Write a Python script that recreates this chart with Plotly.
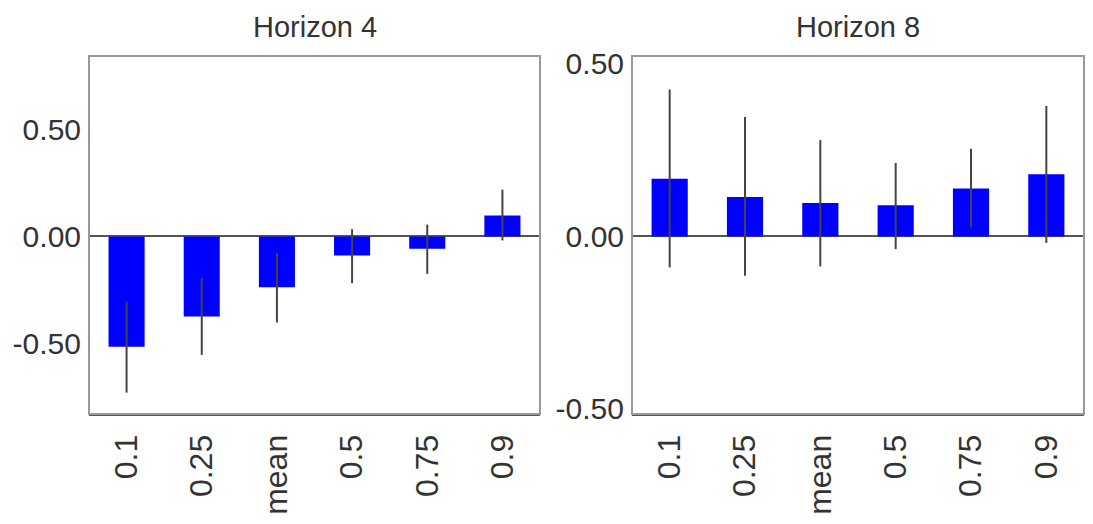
import plotly.graph_objects as go

categories = ["0.1", "0.25", "mean", "0.5", "0.75", "0.9"]

# Horizon 4
h4_values = [-0.516, -0.375, -0.238, -0.089, -0.058, 0.098]
h4_upper = [-0.305, -0.195, -0.078, 0.034, 0.055, 0.219]
h4_lower = [-0.731, -0.555, -0.403, -0.219, -0.175, -0.019]

# Horizon 8
h8_values = [0.167, 0.114, 0.097, 0.090, 0.139, 0.180]
h8_upper = [0.426, 0.346, 0.279, 0.213, 0.254, 0.378]
h8_lower = [-0.090, -0.114, -0.087, -0.037, 0.026, -0.019]

ytick_vals = [-0.5, 0.0, 0.5]
ytick_text = ["-0.50", "0.00", "0.50"]

W, H = 1093, 524
fig = go.Figure()

def add_panel(vals, up, lo, xa, ya):
    fig.add_trace(go.Bar(
        x=categories, y=vals, xaxis=xa, yaxis=ya,
        marker=dict(color="#0000FF", line=dict(width=0)),
        width=0.48,
        error_y=dict(type="data", symmetric=False,
                     array=[u - v for u, v in zip(up, vals)],
                     arrayminus=[v - l for v, l in zip(vals, lo)],
                     color="#444444", thickness=2, width=0),
        showlegend=False,
    ))

add_panel(h4_values, h4_upper, h4_lower, "x", "y")
add_panel(h8_values, h8_upper, h8_lower, "x2", "y2")

font_family = "Liberation Sans, Arial"

def xaxis(domain, anchor):
    return dict(domain=domain, anchor=anchor, range=[-0.5, 5.5],
                tickangle=-90, tickfont=dict(family=font_family, size=32, color="#333333"),
                showline=True, linecolor="#555555", linewidth=2, mirror=False,
                ticks="", showgrid=False, automargin=False, ticklabelstandoff=6,
                fixedrange=True)

def yaxis(domain, anchor, rng):
    return dict(domain=domain, anchor=anchor, range=rng,
                tickvals=ytick_vals, ticktext=ytick_text,
                tickfont=dict(family=font_family, size=30, color="#333333"),
                showline=False, ticks="", showgrid=False,
                zeroline=True, zerolinecolor="#555555", zerolinewidth=1.5,
                automargin=False, ticklabelstandoff=7, fixedrange=True)

yd = [1 - 414 / H, 1 - 56 / H]
fig.update_layout(
    width=W, height=H,
    margin=dict(l=0, r=0, t=0, b=0),
    paper_bgcolor="white", plot_bgcolor="white",
    xaxis=xaxis([89 / W, 540 / W], "y"),
    yaxis=yaxis(yd, "x", [-0.831, 0.844]),
    xaxis2=xaxis([632 / W, 1084 / W], "y2"),
    yaxis2=yaxis(yd, "x2", [-0.515, 0.523]),
    bargap=0.52,
)

for xr, yr in (("x domain", "y domain"), ("x2 domain", "y2 domain")):
    fig.add_shape(type="rect", xref=xr, yref=yr, x0=0, x1=1, y0=0, y1=1,
                  line=dict(color="#999999", width=2), layer="above")

for title, xc in (("Horizon 4", (89 + 540) / 2 / W), ("Horizon 8", (632 + 1084) / 2 / W)):
    fig.add_annotation(text=title, x=xc, y=1 - 27 / H, xref="paper", yref="paper",
                       xanchor="center", yanchor="middle", showarrow=False,
                       font=dict(family=font_family, size=29, color="#333333"))

fig.write_html("out.html")
